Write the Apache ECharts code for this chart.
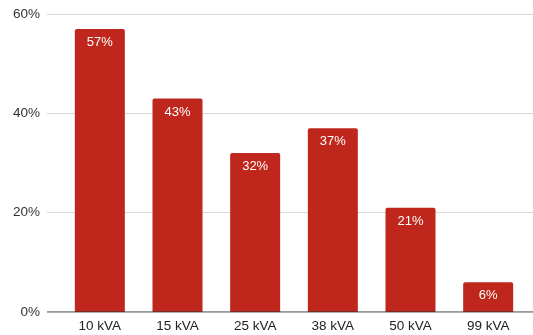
<!DOCTYPE html>
<html>
<head>
<meta charset="utf-8">
<script src="https://cdn.jsdelivr.net/npm/echarts@6/dist/echarts.min.js"></script>
<style>
  html, body { margin: 0; padding: 0; background: #fff; }
  #chart { width: 533px; height: 335px; }
</style>
</head>
<body>
<div id="chart"></div>
<script>
// Share of units by transformer rating
const categories = ['10 kVA', '15 kVA', '25 kVA', '38 kVA', '50 kVA', '99 kVA'];
const shares = [57, 43, 32, 37, 21, 6];
const yTicks = [0, 20, 40, 60];

const yMin = yTicks[0];
const yMax = yTicks[yTicks.length - 1];
const fontFamily = '"Liberation Sans", Arial, sans-serif';

const chart = echarts.init(document.getElementById('chart'), null, { renderer: 'canvas' });

chart.setOption({
  animation: false,
  backgroundColor: '#ffffff',
  grid: [
    // axis frame: percentage labels and gridlines across the full width
    { left: 47, right: 0, top: 14, bottom: 23, containLabel: false },
    // bar area, inset on the left
    { left: 61, right: 6, top: 14, bottom: 23, containLabel: false }
  ],
  xAxis: [
    {
      gridIndex: 0, type: 'value', min: 0, max: 1, show: false
    },
    {
      gridIndex: 1,
      type: 'category',
      data: categories,
      axisLine: { show: false },
      axisTick: { show: false },
      axisLabel: { color: '#222', fontSize: 13.5, fontFamily: fontFamily, margin: 7 }
    }
  ],
  yAxis: [
    {
      gridIndex: 0,
      type: 'value',
      min: yMin, max: yMax, interval: 20,
      axisLine: { show: false },
      axisTick: { show: false },
      axisLabel: {
        color: '#333', fontSize: 13.5, fontFamily: fontFamily, margin: 7,
        formatter: v => v + '%'
      },
      splitLine: { lineStyle: { color: '#d9d9d9', width: 1 } }
    },
    {
      gridIndex: 1,
      type: 'value',
      min: yMin, max: yMax, interval: 20,
      show: false
    }
  ],
  series: [
    {
      // baseline at 0%
      type: 'line',
      xAxisIndex: 0, yAxisIndex: 0,
      data: [[0, 0], [1, 0]],
      symbol: 'none',
      lineStyle: { color: '#333', width: 1 },
      silent: true,
      z: 5
    },
    {
      type: 'bar',
      xAxisIndex: 1, yAxisIndex: 1,
      data: shares,
      barWidth: 50,
      itemStyle: { color: '#bf271d', borderRadius: [2, 2, 0, 0] },
      label: {
        show: true,
        position: 'insideTop',
        distance: 7,
        color: '#fff',
        fontSize: 13,
        fontFamily: fontFamily,
        formatter: p => p.value + '%'
      },
      z: 3
    }
  ]
});
</script>
</body>
</html>
